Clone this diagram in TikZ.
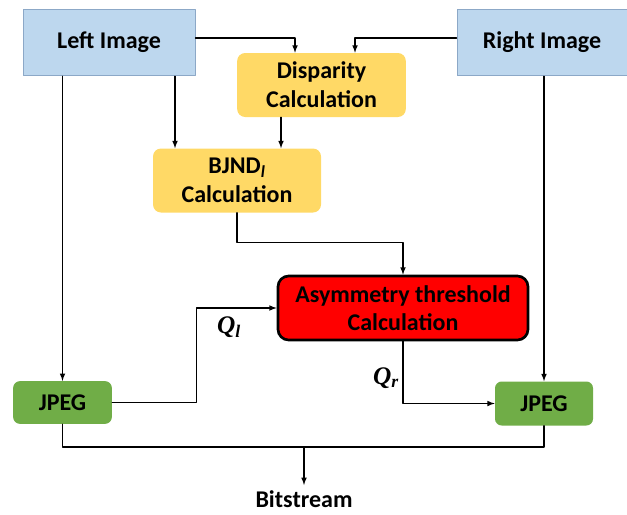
\documentclass[tikz,border=0pt]{standalone}
\usepackage{fontspec}
\setmainfont{Carlito}
\newfontfamily\qfont{Liberation Serif}
\usepackage{tikz}
\usetikzlibrary{calc}
\usetikzlibrary{arrows}

\begin{document}
\begin{tikzpicture}[line cap=round,line join=round,>=latex,x=0.75pt,y=-0.75pt,
  blk/.style={font=\fontsize{18}{21.5}\selectfont\bfseries,align=center,inner sep=0pt},
  imgbox/.style={blk,draw=bluedge,fill=bluefill,line width=0.7pt},
  calcbox/.style={blk,fill=yelfill,rounded corners=6pt},
  jpgbox/.style={blk,fill=grnfill,rounded corners=5pt},
  wire/.style={line width=0.9pt}]
\definecolor{bluefill}{rgb}{0.741,0.843,0.933}
\definecolor{bluedge}{rgb}{0.55,0.66,0.78}
\definecolor{yelfill}{rgb}{1.,0.851,0.4}
\definecolor{grnfill}{rgb}{0.439,0.678,0.278}
\definecolor{redfill}{rgb}{1.,0.,0.}
\useasboundingbox (0,0) rectangle (627,514);
% boxes
\node[imgbox,minimum width=129pt,minimum height=50pt] (limg) at (109,42.5) {Left Image};
\node[imgbox,minimum width=127.5pt,minimum height=50pt] (rimg) at (542,42.5) {Right Image};
\node[calcbox,minimum width=126.5pt,minimum height=48pt] (disp) at (321.5,85) {Disparity\\Calculation};
\node[calcbox,minimum width=126pt,minimum height=48pt] (bjnd) at (237,180.5) {BJND\textsubscript{\itshape l}\\Calculation};
\node[blk,draw=black,fill=redfill,line width=2pt,rounded corners=8pt,minimum width=187.5pt,minimum height=48pt] (asym) at (403,308) {Asymmetry threshold\\Calculation};
\node[jpgbox,minimum width=74pt,minimum height=32pt] (jpegl) at (62.5,402.5) {JPEG};
\node[jpgbox,minimum width=73.5pt,minimum height=33pt] (jpegr) at (544,403.5) {JPEG};
\node[blk,anchor=north] (bits) at (304,490) {Bitstream};
% connectors
\draw [wire,->] ($(limg.east)+(0,-4.5)$) -| ($(disp.north)+(-26.5,0)$);
\draw [wire,->] ($(rimg.west)+(0,-4.5)$) -| ($(disp.north)+(33.5,0)$);
\draw [wire,->] (limg.south -| jpegl.north) -- (jpegl.north);
\draw [wire,->] ($(limg.south)+(66,0)$) -- ($(bjnd.north)+(-62,0)$);
\draw [wire,->] ($(disp.south)+(-40.5,0)$) -- ($(bjnd.north)+(44,0)$);
\draw [wire,->] (bjnd.south) -- ++(0,29.5) -| (asym.north);
\draw [wire,->] (jpegl.east) -- ++(84,0) |- (asym.west);
\draw [wire,->] (asym.south) |- (jpegr.west);
\draw [wire,->] (rimg.south -| jpegr.north) -- (jpegr.north);
\coordinate (bus) at (304,447);
\draw [wire] (jpegl.south) |- (bus) -| (jpegr.south);
\draw [wire,->] (bus) -- ++(0,38);
% labels
\node[font=\qfont\fontsize{19}{22}\selectfont\bfseries\itshape] (ql) at (229,327) {Q\textsubscript{l}};
\node[font=\qfont\fontsize{19}{22}\selectfont\bfseries\itshape] (qr) at (386,378) {Q\textsubscript{r}};
\end{tikzpicture}
\end{document}
